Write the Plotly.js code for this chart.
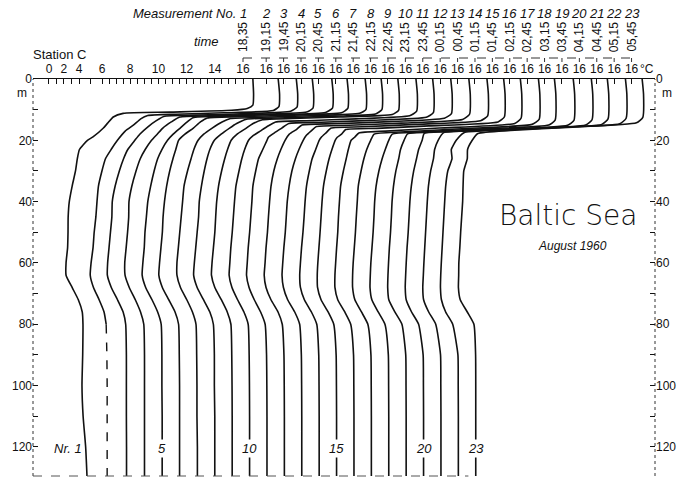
<!DOCTYPE html>
<html><head><meta charset="utf-8">
<script src="https://cdn.plot.ly/plotly-3.0.1.min.js"></script>
<style>html,body{margin:0;padding:0;background:#fff}#chart{width:688px;height:478px}</style>
</head><body><div id="chart"></div>
<script>
// ---------------- data ----------------
const measurementNo = ["1","2","3","4","5","6","7","8","9","10","11","12","13","14","15","16","17","18","19","20","21","22","23"];
const times = ["18,35","19,15","19,45","20,15","20,45","21,15","21,45","22,15","22,45","23,15","23,45","00,15","00,45","01,15","01,45","02,15","02,45","03,15","03,45","04,15","04,45","05,15","05,45"];
const scaleLabels = ["0","2","4","6","8","10","12","14","16"];
const depthLabels = [0,20,40,60,80,100,120];
const bottomLabels = ["Nr. 1","5","10","15","20","23"];
const bottomLabelProfiles = [1,5,10,15,20,23];

// depths (m) below the thermocline shared by all profiles
const deepDepths = [20,23,26,30,35,40,45,50,55,60,64,68,72,76,80,90,100,110,120,130];

// upper layer: depth (m) and temperature (°C); deep part: temperature at deepDepths
const z01=[0,5,8.5,9.6,10.2,10.8,11.2,12.4,14.4,16,18.9], t01=[16.7,16.75,16.7,16.3,15.2,10.8,7.5,6.8,6.4,6.1,5.36];
const d01=[4.97,4.4,4.25,4.12,3.88,3.68,3.6,3.59,3.56,3.45,3.45,3.88,4.32,4.6,4.65,4.63,4.58,4.66,4.84,4.94];
const z02=[0,5,9,10.3,11,11.5,11.9,13,15,17], t02=[16.85,16.95,16.9,16.5,13,9.6,7.6,7.1,6.6,6.0];
const d02=[5.45,5.0,4.6,4.35,4.1,4.0,3.92,3.8,3.72,3.58,3.52,3.75,4.15,4.5,4.65,4.7,4.72,4.72,4.72,4.72];
const z03=[0,5,9.2,10.5,11.3,11.8,12.2,13.5,15.5,18], t03=[16.9,17.0,16.95,16.5,13.4,9.8,7.5,7.0,6.4,5.8];
const d03=[5.45,4.95,4.65,4.35,4.05,3.85,3.82,3.72,3.62,3.52,3.5,3.78,4.22,4.62,4.8,4.85,4.85,4.85,4.86,4.86];
const z04=[0,5,9.5,10.8,11.5,12,12.4,14,16,18], t04=[16.8,16.9,16.85,16.4,13.2,9.5,7.4,6.8,6.2,5.8];
const d04=[5.4,4.95,4.6,4.3,4.0,3.8,3.78,3.7,3.6,3.5,3.52,3.82,4.25,4.62,4.85,4.9,4.9,4.9,4.9,4.9];
const z05=[0,5,9.5,10.9,11.6,12.1,12.6,14,16,18], t05=[16.95,17.05,17.0,16.5,13.0,9.3,7.1,6.7,6.2,5.7];
const d05=[5.3,4.9,4.6,4.35,4.1,3.9,3.8,3.7,3.65,3.55,3.5,3.75,4.2,4.6,4.85,4.9,4.9,4.92,4.92,4.92];
const z06=[0,5,9.6,11,11.8,12.3,12.7,14,16,18], t06=[16.8,16.9,16.85,16.4,12.8,9.0,6.9,6.4,5.9,5.3];
const d06=[4.85,4.65,4.45,4.22,4.0,3.85,3.75,3.7,3.6,3.5,3.45,3.7,4.15,4.6,4.85,4.9,4.92,4.92,4.92,4.92];
const z07=[0,5,10,11.2,12,12.5,12.9,14,16,18], t07=[16.85,16.95,16.9,16.45,13.0,9.5,7.3,6.7,6.0,5.4];
const d07=[5.0,4.7,4.5,4.25,4.0,3.9,3.8,3.7,3.6,3.5,3.5,3.75,4.2,4.6,4.85,4.9,4.92,4.92,4.95,4.95];
const z08=[0,5,10,11.4,12.2,12.7,13.1,14.5,16,18], t08=[16.75,16.85,16.8,16.35,12.8,9.4,7.2,6.5,6.0,5.4];
const d08=[4.92,4.6,4.4,4.2,4.0,3.85,3.8,3.7,3.6,3.5,3.45,3.7,4.15,4.6,4.85,4.92,4.92,4.95,4.95,4.95];
const z09=[0,5,10.2,11.6,12.4,12.9,13.3,14.6,16.2,18], t09=[16.7,16.8,16.75,16.3,12.6,9.2,7.1,6.4,5.9,5.3];
const d09=[4.88,4.62,4.42,4.2,3.98,3.85,3.78,3.72,3.62,3.52,3.48,3.72,4.18,4.6,4.86,4.92,4.94,4.95,4.95,4.95];
const z10=[0,5,10.5,12,13,13.6,14,15.5,17,18.5], t10=[16.75,16.85,16.8,16.3,12.5,9.0,6.8,6.2,5.7,5.2];
const d10=[4.88,4.6,4.4,4.2,3.98,3.88,3.8,3.72,3.62,3.55,3.5,3.7,4.1,4.55,4.85,4.92,4.94,4.95,4.95,4.95];
const z11=[0,5,11,12.5,13.5,14.1,14.5,16,17.5,19], t11=[16.7,16.8,16.75,16.25,12.3,8.8,6.5,6.0,5.5,5.05];
const d11=[4.95,4.65,4.35,4.15,3.95,3.88,3.8,3.72,3.62,3.55,3.5,3.68,4.05,4.5,4.82,4.92,4.94,4.95,4.95,4.95];
const z12=[0,5,11.3,12.8,14,14.6,15,16.5,18], t12=[16.75,16.85,16.8,16.3,12.0,8.5,6.2,5.8,5.3];
const d12=[5.0,4.7,4.45,4.2,4.0,3.9,3.82,3.75,3.65,3.58,3.52,3.65,4.0,4.5,4.8,4.92,4.94,4.95,4.95,4.95];
const z13=[0,5,11.5,13.2,14.4,15.1,15.5,17,18.5], t13=[16.8,16.9,16.85,16.35,12.0,8.3,6.0,5.6,5.25];
const d13=[5.05,4.75,4.5,4.25,4.05,3.92,3.85,3.78,3.68,3.6,3.55,3.65,3.95,4.45,4.8,4.92,4.94,4.95,4.95,4.95];
const z14=[0,5,12,13.6,14.8,15.6,16,17.5,19], t14=[16.85,16.95,16.9,16.4,11.8,8.0,5.8,5.45,5.1];
const d14=[4.95,4.7,4.45,4.25,4.05,3.95,3.88,3.8,3.7,3.62,3.57,3.62,3.9,4.4,4.78,4.92,4.94,4.95,4.95,4.95];
const z15=[0,5,12.4,14,15.3,16.1,16.5,18,19], t15=[16.8,16.9,16.85,16.4,11.5,7.8,5.6,5.3,5.0];
const d15=[4.85,4.62,4.42,4.22,4.02,3.92,3.85,3.78,3.7,3.62,3.58,3.6,3.85,4.35,4.75,4.92,4.94,4.95,4.95,4.95];
const z16=[0,5,12.8,14.5,16,17,17.6,19], t16=[16.75,16.85,16.8,16.35,11.0,7.2,5.3,5.0];
const d16=[4.75,4.55,4.4,4.2,4.0,3.92,3.85,3.8,3.72,3.65,3.6,3.6,3.8,4.3,4.72,4.92,4.94,4.95,4.95,4.95];
const z17=[0,5,13.2,14.8,16.3,17.3,18], t17=[16.8,16.9,16.85,16.35,11,7.0,5.15];
const d17=[4.9,4.62,4.42,4.22,4.02,3.95,3.88,3.82,3.74,3.66,3.62,3.62,3.78,4.25,4.7,4.92,4.94,4.95,4.95,4.95];
const z18=[0,5,13.4,15,16.4,17.3,18], t18=[16.7,16.8,16.75,16.3,11,7.1,5.2];
const d18=[4.95,4.7,4.48,4.25,4.05,3.95,3.9,3.84,3.76,3.68,3.64,3.62,3.75,4.2,4.68,4.92,4.94,4.95,4.95,4.95];
const z19=[0,5,13.5,15.1,16.5,17.3,17.9], t19=[16.8,16.9,16.85,16.4,11.2,7.0,5.05];
const d19=[4.8,4.55,4.42,4.22,4.05,3.95,3.9,3.84,3.76,3.7,3.66,3.64,3.72,4.15,4.65,4.92,4.94,4.95,4.95,4.95];
const z20=[0,5,13.3,15,16.3,17.1,17.7], t20=[16.85,16.95,16.9,16.45,11.4,7.0,5.0];
const d20=[4.85,4.6,4.45,4.25,4.08,3.98,3.92,3.86,3.78,3.72,3.68,3.65,3.72,4.1,4.6,4.92,4.94,4.95,4.95,4.95];
const z21=[0,5,13,14.8,16.1,16.9,17.5], t21=[16.75,16.85,16.8,16.35,11.5,7.2,5.15];
const d21=[4.75,4.5,4.42,4.22,4.06,3.98,3.92,3.86,3.8,3.74,3.7,3.66,3.72,4.08,4.58,4.92,4.94,4.95,4.95,4.95];
const z22=[0,5,12.8,14.6,15.9,16.8,17.5], t22=[16.8,16.9,16.85,16.4,11.6,7.3,5.35];
const d22=[4.8,4.45,4.5,4.2,4.05,3.98,3.92,3.86,3.8,3.74,3.7,3.68,3.75,4.05,4.55,4.92,4.94,4.95,4.95,4.95];
const z23=[0,5,12.5,14.3,15.7,16.8,17.8], t23=[16.75,16.85,16.8,16.35,11.8,7.4,5.1];
const d23=[4.7,4.37,4.35,4.1,4.05,4.02,3.95,3.88,3.82,3.75,3.74,3.72,3.85,4.35,4.82,4.94,4.95,4.95,4.95,4.95];

// ---------------- layout helpers ----------------
const upperDepths=[z01,z02,z03,z04,z05,z06,z07,z08,z09,z10,z11,z12,z13,z14,z15,z16,z17,z18,z19,z20,z21,z22,z23];
const upperTemps=[t01,t02,t03,t04,t05,t06,t07,t08,t09,t10,t11,t12,t13,t14,t15,t16,t17,t18,t19,t20,t21,t22,t23];
const deepTemps=[d01,d02,d03,d04,d05,d06,d07,d08,d09,d10,d11,d12,d13,d14,d15,d16,d17,d18,d19,d20,d21,d22,d23];

const SHIFT_PER_MIN = 0.04113;      // horizontal offset of successive profiles (chart °C per minute)
const FONT = 'Liberation Sans, Arial, sans-serif';
const L=33, R=33, T=79, B=2, W=688, H=478;
const plotH = H-T-B, plotW = W-L-R;
const py = p => 1-(p-T)/plotH;       // pixel row -> paper y
const px = p => (p-L)/plotW;         // pixel col -> paper x

function minutesOf(s){const [h,m]=s.split(',').map(Number);return (h<12?h+24:h)*60+m;}
const t0 = minutesOf(times[0]);
const shifts = times.map(s => (minutesOf(s)-t0)*SHIFT_PER_MIN);

const traces = [];
const lineStyle = {color:'#111', width:1.6, shape:'spline', smoothing:0.5};
for (let k=0;k<23;k++){
  const dep = upperDepths[k].concat(deepDepths);
  const tem = upperTemps[k].concat(deepTemps[k]);
  const xs = tem.map(v => v+shifts[k]);
  if (k===1){
    const cut = dep.indexOf(80);
    traces.push({x:xs.slice(0,cut+1), y:dep.slice(0,cut+1), mode:'lines', line:lineStyle, hoverinfo:'skip', showlegend:false});
    traces.push({x:xs.slice(cut), y:dep.slice(cut), mode:'lines', line:Object.assign({},lineStyle,{dash:'dash',width:1.4}), hoverinfo:'skip', showlegend:false});
  } else {
    traces.push({x:xs, y:dep, mode:'lines', line:lineStyle, hoverinfo:'skip', showlegend:false});
  }
}
traces.push({x:[10], y:[50], yaxis:'y2', mode:'markers', marker:{opacity:0}, hoverinfo:'skip', showlegend:false});

// top-axis ticks: scale of profile 1 (0-4 squeezed at the left end) + the 16 °C mark of every profile
const squeezed = {"0":2.24, "2":3.30, "4":4.37};
const tickvals = [], ticktext = [];
scaleLabels.forEach(l => { tickvals.push(squeezed[l]!==undefined ? squeezed[l] : Number(l)); ticktext.push(l); });
[2.77,3.83,5.2].forEach(v=>{tickvals.push(v);ticktext.push('');});
for (let v=6.5; v<16; v+=0.5){ if (v%2!==0){tickvals.push(v);ticktext.push('');} }
for (let k=1;k<23;k++){ tickvals.push(16+shifts[k]); ticktext.push('16'); }

const yTickVals=[], yTickText=[];
for (let d=0; d<=120; d+=10){ yTickVals.push(d); yTickText.push(depthLabels.includes(d)?String(d):''); }

const ann = [];
const txt = (o) => ann.push(Object.assign({showarrow:false, font:{family:FONT,size:12,color:'#111'}}, o));
txt({text:'Measurement No.', xref:'paper', yref:'paper', x:px(238), y:py(14), xanchor:'right', yanchor:'middle', font:{family:FONT,size:13,color:'#111',style:'italic'}});
txt({text:'time', xref:'paper', yref:'paper', x:px(221), y:py(41), xanchor:'right', yanchor:'middle', font:{family:FONT,size:13,color:'#111',style:'italic'}});
txt({text:'Station C', xref:'paper', yref:'paper', x:px(31), y:py(54), xanchor:'left', yanchor:'middle', font:{family:FONT,size:13,color:'#111'}});
txt({text:'°C', xref:'paper', yref:'paper', x:px(656), y:py(69), xanchor:'right', yanchor:'middle', font:{family:FONT,size:12,color:'#111'}});
txt({text:'m', xref:'paper', yref:'paper', x:px(22), y:py(93), xanchor:'center', yanchor:'middle', font:{family:FONT,size:12,color:'#111'}});
txt({text:'m', xref:'paper', yref:'paper', x:px(667), y:py(93), xanchor:'center', yanchor:'middle', font:{family:FONT,size:12,color:'#111'}});
txt({text:'Baltic Sea', xref:'paper', yref:'paper', x:px(568), y:py(216), xanchor:'center', yanchor:'middle', font:{family:'DejaVu Sans, Lato, sans-serif',size:28,color:'#111',weight:200}});
txt({text:'August 1960', xref:'paper', yref:'paper', x:px(572), y:py(246), xanchor:'center', yanchor:'middle', font:{family:FONT,size:12,color:'#111',style:'italic'}});
for (let k=0;k<23;k++){
  txt({text:measurementNo[k], xref:'x', yref:'paper', x:16+shifts[k], y:py(13), xanchor:'center', yanchor:'middle', font:{family:FONT,size:13,color:'#111',style:'italic'}});
  txt({text:times[k], xref:'x', yref:'paper', x:16+shifts[k], y:py(37), textangle:-90, xanchor:'center', yanchor:'middle', font:{family:FONT,size:12,color:'#111'}});
}
bottomLabels.forEach((l,i)=>{
  const k = bottomLabelProfiles[i]-1;
  const xd = deepTemps[k][deepTemps[k].length-1]+shifts[k];
  if (i===0) txt({text:l, xref:'x', yref:'paper', x:xd, xshift:-3, y:py(448), xanchor:'right', yanchor:'middle', font:{family:FONT,size:13,color:'#111',style:'italic'}});
  else txt({text:l, xref:'x', yref:'paper', x:xd, y:py(448), xanchor:'center', yanchor:'middle', bgcolor:'#fff', borderpad:1, font:{family:FONT,size:13,color:'#111',style:'italic'}});
});

const shapes = [
  {type:'line', xref:'paper', yref:'paper', x0:0, x1:0, y0:0, y1:1, line:{color:'#333', width:1, dash:'dot'}},
  {type:'line', xref:'paper', yref:'paper', x0:1, x1:1, y0:0, y1:1, line:{color:'#333', width:1, dash:'dot'}},
  {type:'line', xref:'paper', yref:'paper', x0:0, x1:0.7, y0:0, y1:0, line:{color:'#555', width:1, dash:'dash'}},
  {type:'line', xref:'x', yref:'paper', x0:16+shifts[0], x1:16+shifts[22], y0:py(58), y1:py(58), line:{color:'#333', width:1, dash:'dash'}}
];
for (let k=0;k<23;k++) shapes.push({type:'line', xref:'x', yref:'paper', x0:16+shifts[k], x1:16+shifts[k], y0:py(58), y1:py(62), line:{color:'#333', width:1}});

const axisY = {range:[129.5,0], autorange:false, showgrid:false, zeroline:false, showline:false, ticks:'inside', ticklen:5, tickwidth:1, tickcolor:'#111', tickmode:'array', tickvals:yTickVals, ticktext:yTickText, tickfont:{family:FONT,size:12,color:'#111'}, fixedrange:true};

const layout = {
  width:W, height:H, margin:{l:L,r:R,t:T,b:B,pad:0}, paper_bgcolor:'#fff', plot_bgcolor:'#fff', showlegend:false,
  xaxis:{range:[1.106,45.22], autorange:false, side:'top', showgrid:false, zeroline:false, showline:true, linecolor:'#111', linewidth:1.2,
    ticks:'inside', ticklen:5, tickwidth:1, tickcolor:'#111', tickmode:'array', tickvals, ticktext, tickangle:0,
    tickfont:{family:FONT,size:12,color:'#111'}, fixedrange:true},
  yaxis:Object.assign({}, axisY, {side:'left'}),
  yaxis2:Object.assign({}, axisY, {side:'right', overlaying:'y', anchor:'x'}),
  annotations:ann, shapes:shapes
};
Plotly.newPlot('chart', traces, layout, {displayModeBar:false, staticPlot:true});
</script>
</body></html>
